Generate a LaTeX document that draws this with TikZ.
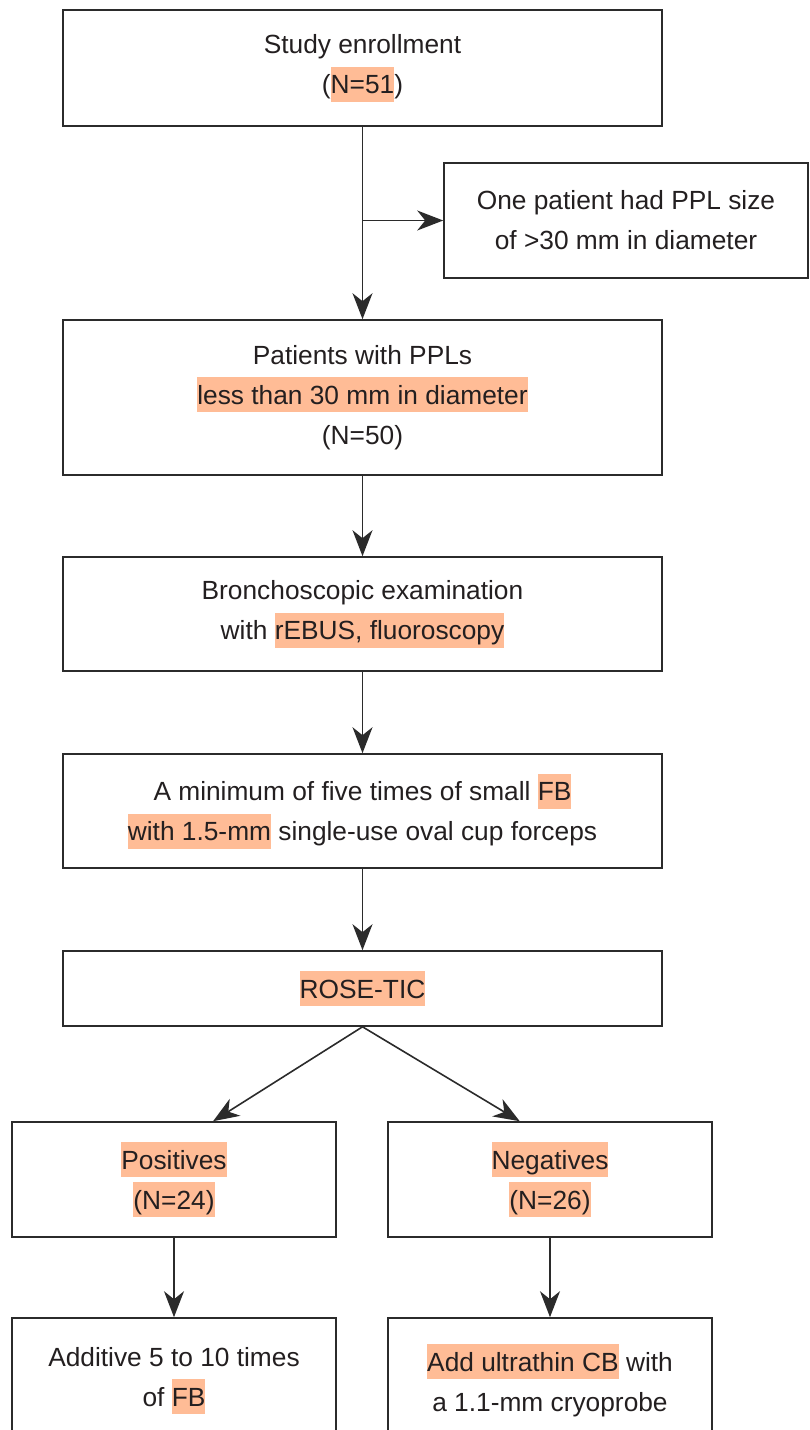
\documentclass[tikz,border=0pt]{standalone}
\usepackage{fontspec}
\setmainfont{Liberation Sans}
\usetikzlibrary{arrows.meta,calc}
\definecolor{hlc}{HTML}{FFBC96}
\definecolor{txt}{HTML}{231F20}
\definecolor{edge}{HTML}{2B2B2B}
\newcommand\hlt[1]{{\setlength\fboxsep{0pt}\colorbox{hlc}{\rule[-8pt]{0pt}{35pt}#1}}}
\begin{document}
\begin{tikzpicture}[x=1pt,y=-1pt,
  box/.style={draw=edge,line width=1.6pt,inner sep=0pt,align=center,text=txt,
    font=\fontsize{26.3}{40}\selectfont},
  arr/.style={draw=edge,line width=1.6pt,-{Stealth[length=26pt,width=20pt,inset=8pt]}}]
\useasboundingbox (0,0) rectangle (809,1430);
\clip (0,0) rectangle (809,1430);
\node[box,minimum width=599pt,minimum height=116pt] (b1) at (362.5,68) {Study enrollment\\(\hlt{N=51})};
\node[box,minimum width=364pt,minimum height=115pt] (side) at (626,220.5) {One patient had PPL size\\of >30 mm in diameter};
\node[box,minimum width=599pt,minimum height=155pt] (b2) at (362.5,397.5) {Patients with PPLs\\\hlt{less than 30 mm in diameter}\\(N=50)};
\node[box,minimum width=599pt,minimum height=114pt] (b3) at (362.5,614) {Bronchoscopic examination\\with \hlt{rEBUS, fluoroscopy}};
\node[box,minimum width=599pt,minimum height=114pt] (b4) at (362.5,811) {A minimum of five times of small \hlt{FB}\\\hlt{with 1.5-mm} single-use oval cup forceps};
\node[box,minimum width=599pt,minimum height=75pt] (b5) at (362.5,988.5) {\hlt{ROSE-TIC}};
\node[box,minimum width=324pt,minimum height=115pt] (b6) at (174,1179.5) {\hlt{Positives}\\\hlt{(N=24)}};
\node[box,minimum width=324pt,minimum height=115pt] (b7) at (550,1179.5) {\hlt{Negatives}\\\hlt{(N=26)}};
\node[box,minimum width=324pt,minimum height=125pt] (b8) at (174,1380.5) {Additive 5 to 10 times\\of \hlt{FB}};
\node[box,minimum width=324pt,minimum height=125pt] (b9) at (550,1380.5) {\hlt{Add ultrathin CB} with\\a 1.1-mm cryoprobe};
\coordinate (br) at (b1.south |- side.west);
\draw[arr] (b1.south) -- (b2.north);
\draw[arr] (br) -- (side.west);
\draw[arr] (b2.south) -- (b3.north);
\draw[arr] (b3.south) -- (b4.north);
\draw[arr] (b4.south) -- (b5.north);
\draw[arr] (b5.south) -- ($(b6.north west)!0.62!(b6.north east)$);
\draw[arr] (b5.south) -- ($(b7.north west)!0.407!(b7.north east)$);
\draw[arr] (b6.south) -- (b8.north);
\draw[arr] (b7.south) -- (b9.north);
\end{tikzpicture}
\end{document}
